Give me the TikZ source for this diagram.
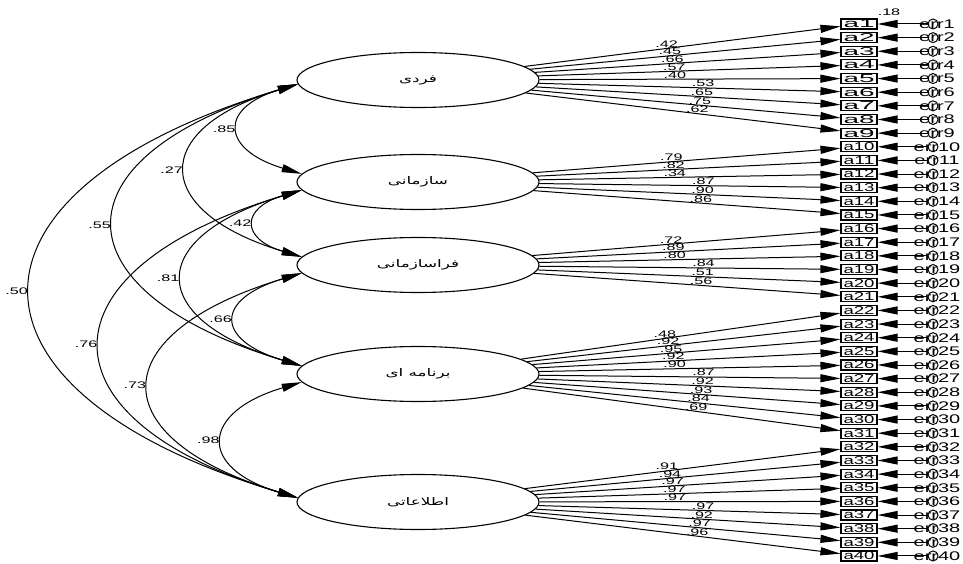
\documentclass[tikz,border=0pt]{standalone}
\usepackage{fontspec}
\usepackage{graphicx}
\setmainfont{Liberation Sans}
\newfontfamily\arabicfont[Script=Arabic]{DejaVu Sans}
\TeXXeTstate=1
\usetikzlibrary{shapes.geometric,arrows.meta}
\newcommand{\sx}[2]{\scalebox{#1}[1]{#2}}
\newcommand{\fa}[1]{\sx{1.6}{\arabicfont\beginR #1\endR}}
\begin{document}
\begin{tikzpicture}[x=1pt,y=-1pt,
  lat/.style={ellipse,draw,line width=1.1pt,minimum width=242pt,minimum height=55pt,inner sep=0pt,font=\fontsize{10.5}{11}\selectfont},
  obs/.style={rectangle,draw,line width=1.1pt,minimum width=36pt,minimum height=10pt,inner sep=0pt},
  errc/.style={circle,draw,line width=1pt,minimum size=10pt,inner sep=0pt},
  errt/.style={inner sep=0pt,font=\fontsize{12.5}{13}\selectfont},
  load/.style={-{Triangle[length=20pt,width=8pt]},line width=1pt},
  cov/.style={{Triangle[length=20pt,width=8pt]}-{Triangle[length=20pt,width=8pt]},line width=1pt},
  lv/.style={font=\fontsize{9.5}{10}\selectfont,inner sep=0.5pt},
  cl/.style={font=\fontsize{9.5}{10}\selectfont,inner sep=0pt,left=4pt}
]
\useasboundingbox (0,0) rectangle (963,564);
% latent factors
\node[lat] (F1) at (418,80)  {\fa{فردی}};
\node[lat] (F2) at (418,182) {\fa{سازمانی}};
\node[lat] (F3) at (418,265) {\fa{فراسازمانی}};
\node[lat] (F4) at (418,374) {\fa{برنامه ای}};
\node[lat] (F5) at (418,502) {\fa{اطلاعاتی}};
% indicators and errors
\foreach \i in {1,...,40}{
  \node[obs] (a\i) at (859,{24+13.64*(\i-1)}) {\resizebox{31pt}{8pt}{a\i}};
  \node[errc] (e\i) at (933,{24+13.64*(\i-1)}) {};
  \node[errt] (t\i) at (937,{24+13.64*(\i-1)}) {\sx{1.6}{err\i}};
  \draw[load] (e\i) -- (a\i);
}
\node[lv,anchor=south west,inner sep=0pt] (r1) at ([yshift=3pt]a1.north east) {\sx{1.7}{.18}};
% loadings
\foreach \i/\v in {1/.42,2/.45,3/.66,4/.57,5/.40}{\draw[load] (F1) -- (a\i) node[lv,pos=0.45,above] {\sx{1.7}{\v}};}
\foreach \i/\v in {6/.53,7/.65,8/.75,9/.62}{\draw[load] (F1) -- (a\i) node[lv,pos=0.545,above] {\sx{1.7}{\v}};}
\foreach \i/\v in {10/.79,11/.82,12/.34}{\draw[load] (F2) -- (a\i) node[lv,pos=0.45,above] {\sx{1.7}{\v}};}
\foreach \i/\v in {13/.87,14/.90,15/.86}{\draw[load] (F2) -- (a\i) node[lv,pos=0.545,above] {\sx{1.7}{\v}};}
\foreach \i/\v in {16/.72,17/.89,18/.80}{\draw[load] (F3) -- (a\i) node[lv,pos=0.45,above] {\sx{1.7}{\v}};}
\foreach \i/\v in {19/.84,20/.51,21/.56}{\draw[load] (F3) -- (a\i) node[lv,pos=0.545,above] {\sx{1.7}{\v}};}
\foreach \i/\v in {22/.48,23/.92,24/.95,25/.92,26/.90}{\draw[load] (F4) -- (a\i) node[lv,pos=0.45,above] {\sx{1.7}{\v}};}
\foreach \i/\v in {27/.87,28/.92,29/.93,30/.84,31/.69}{\draw[load] (F4) -- (a\i) node[lv,pos=0.545,above] {\sx{1.7}{\v}};}
\foreach \i/\v in {32/.91,33/.94,34/.97,35/.97,36/.97}{\draw[load] (F5) -- (a\i) node[lv,pos=0.45,above] {\sx{1.7}{\v}};}
\foreach \i/\v in {37/.97,38/.92,39/.97,40/.96}{\draw[load] (F5) -- (a\i) node[lv,pos=0.545,above] {\sx{1.7}{\v}};}
% covariances
\draw[cov] (F1.182) .. controls +(-80,24) and +(-80,-24) .. (F2.176) node[cl,pos=0.5] {\sx{1.7}{.85}};
\draw[cov] (F2.184) .. controls +(-61,18) and +(-61,-18) .. (F3.176) node[cl,pos=0.5] {\sx{1.7}{.42}};
\draw[cov] (F3.184) .. controls +(-87,26) and +(-87,-26) .. (F4.176) node[cl,pos=0.5] {\sx{1.7}{.66}};
\draw[cov] (F4.184) .. controls +(-101,30) and +(-101,-30) .. (F5.178) node[cl,pos=0.5] {\sx{1.7}{.98}};
\draw[cov] (F1.182) .. controls +(-150,45) and +(-150,-45) .. (F3.176) node[cl,pos=0.5] {\sx{1.7}{.27}};
\draw[cov] (F2.184) .. controls +(-157,47) and +(-157,-47) .. (F4.176) node[cl,pos=0.5] {\sx{1.7}{.81}};
\draw[cov] (F3.184) .. controls +(-199,60) and +(-199,-60) .. (F5.178) node[cl,pos=0.5] {\sx{1.7}{.73}};
\draw[cov] (F1.182) .. controls +(-246,74) and +(-246,-74) .. (F4.176) node[cl,pos=0.5] {\sx{1.7}{.55}};
\draw[cov] (F2.184) .. controls +(-264,79) and +(-264,-79) .. (F5.178) node[cl,pos=0.5] {\sx{1.7}{.76}};
\draw[cov] (F1.182) .. controls +(-354,106) and +(-354,-106) .. (F5.178) node[cl,pos=0.5] {\sx{1.7}{.50}};
\end{tikzpicture}
\end{document}
